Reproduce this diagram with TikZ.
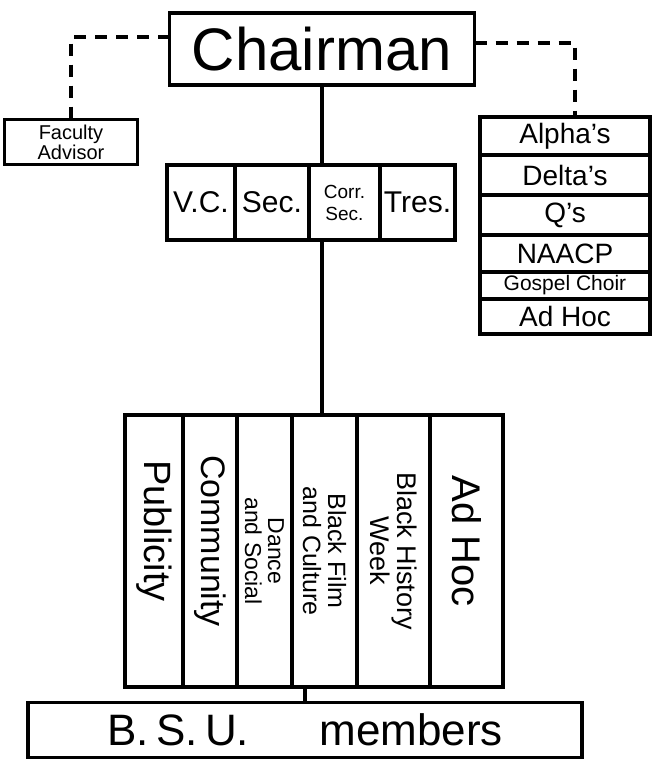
\documentclass[tikz,border=0pt]{standalone}
\usepackage{fontspec}
\setmainfont{Liberation Sans}
\usetikzlibrary{positioning}
\newcommand{\fsz}[1]{\fontsize{#1}{#1}\selectfont}
\tikzset{
  orgbox/.style    = {rectangle, draw=black, line width=3.5pt, outer sep=0pt, inner sep=1pt, align=center},
  officebox/.style = {orgbox, minimum height=75pt, font=\fsz{30}},
  clubbox/.style   = {orgbox, minimum width=170pt, font=\fsz{28}},
  cmtebox/.style   = {orgbox, minimum height=272pt},
  cmtext/.style    = {rotate=-90, align=center, inner sep=0pt},
  solidlink/.style = {line width=3.5pt},
  dashlink/.style  = {line width=3.5pt, dash pattern=on 12pt off 9pt}
}
\begin{document}
\begin{tikzpicture}[x=1pt, y=-1pt]
    \useasboundingbox (0,0) rectangle (661,769);
    \node[orgbox, minimum width=305pt, minimum height=72pt, font=\fsz{60}] (chair) at (322,49) {Chairman};
    \node[orgbox, minimum width=133pt, minimum height=45pt, font=\fsz{20}] (fac) at (71,142) {Faculty\\Advisor};
    % clubs
    \node[clubbox, minimum height=38pt] (alpha) at (565,136) {Alpha's};
    \node[clubbox, minimum height=40pt, below=0pt of alpha] (delta) {Delta's};
    \node[clubbox, minimum height=40pt, below=0pt of delta] (ques) {Q's};
    \node[clubbox, minimum height=37pt, below=0pt of ques] (naacp) {NAACP};
    \node[clubbox, minimum height=27pt, below=0pt of naacp, font=\fsz{21}] (gospel) {Gospel Choir};
    \node[clubbox, minimum height=35pt, below=0pt of gospel] (clubadhoc) {Ad Hoc};
    % officers
    \node[officebox, minimum width=68pt] (vc) at (201,202.5) {V.C.};
    \node[officebox, minimum width=74pt, right=0pt of vc] (sec) {Sec.};
    \node[officebox, minimum width=71pt, right=0pt of sec, font=\fsz{19}] (cs) {Corr.\\[3pt]Sec.};
    \node[officebox, minimum width=75pt, right=0pt of cs] (tres) {Tres.};
    % committees
    \node[cmtebox, minimum width=58pt] (pub) at (154,551) {};
    \node[cmtebox, minimum width=54pt, right=0pt of pub] (comm) {};
    \node[cmtebox, minimum width=55pt, right=0pt of comm] (dance) {};
    \node[cmtebox, minimum width=65pt, right=0pt of dance] (film) {};
    \node[cmtebox, minimum width=73pt, right=0pt of film] (hist) {};
    \node[cmtebox, minimum width=73pt, right=0pt of hist] (adhoc) {};
    \node[cmtext, font=\fsz{38}] (pub-t) at ([yshift=20pt]pub.center) {Publicity};
    \node[cmtext, font=\fsz{34}] (comm-t) at ([yshift=10pt]comm.center) {Community};
    \node[cmtext, font=\fsz{23}] (dance-t) at (dance.center) {Dance\\and Social};
    \node[cmtext, font=\fsz{25}] (film-t) at (film.center) {Black Film\\and Culture};
    \node[cmtext, font=\fsz{27}] (hist-t) at (hist.center) {Black History\\Week};
    \node[cmtext, font=\fsz{40}] (adhoc-t) at ([yshift=10pt]adhoc.center) {Ad Hoc};
    \node[orgbox, minimum width=554pt, minimum height=55pt, font=\fsz{44}] (bsu) at (305,730) {B.\,S.\,U.\hspace{1.6em}members};
    \draw[solidlink] (chair.south) -- (chair.south |- cs.north);
    \draw[solidlink] (cs.south -| chair.south) -- (film.north -| chair.south);
    \draw[solidlink] (film.south -| bsu.north) -- (bsu.north);
    \draw[dashlink] ([yshift=12pt]chair.west) -| (fac.north);
    \draw[dashlink] ([yshift=6pt]chair.east) -| ([xshift=10pt]alpha.north);
\end{tikzpicture}
\end{document}
